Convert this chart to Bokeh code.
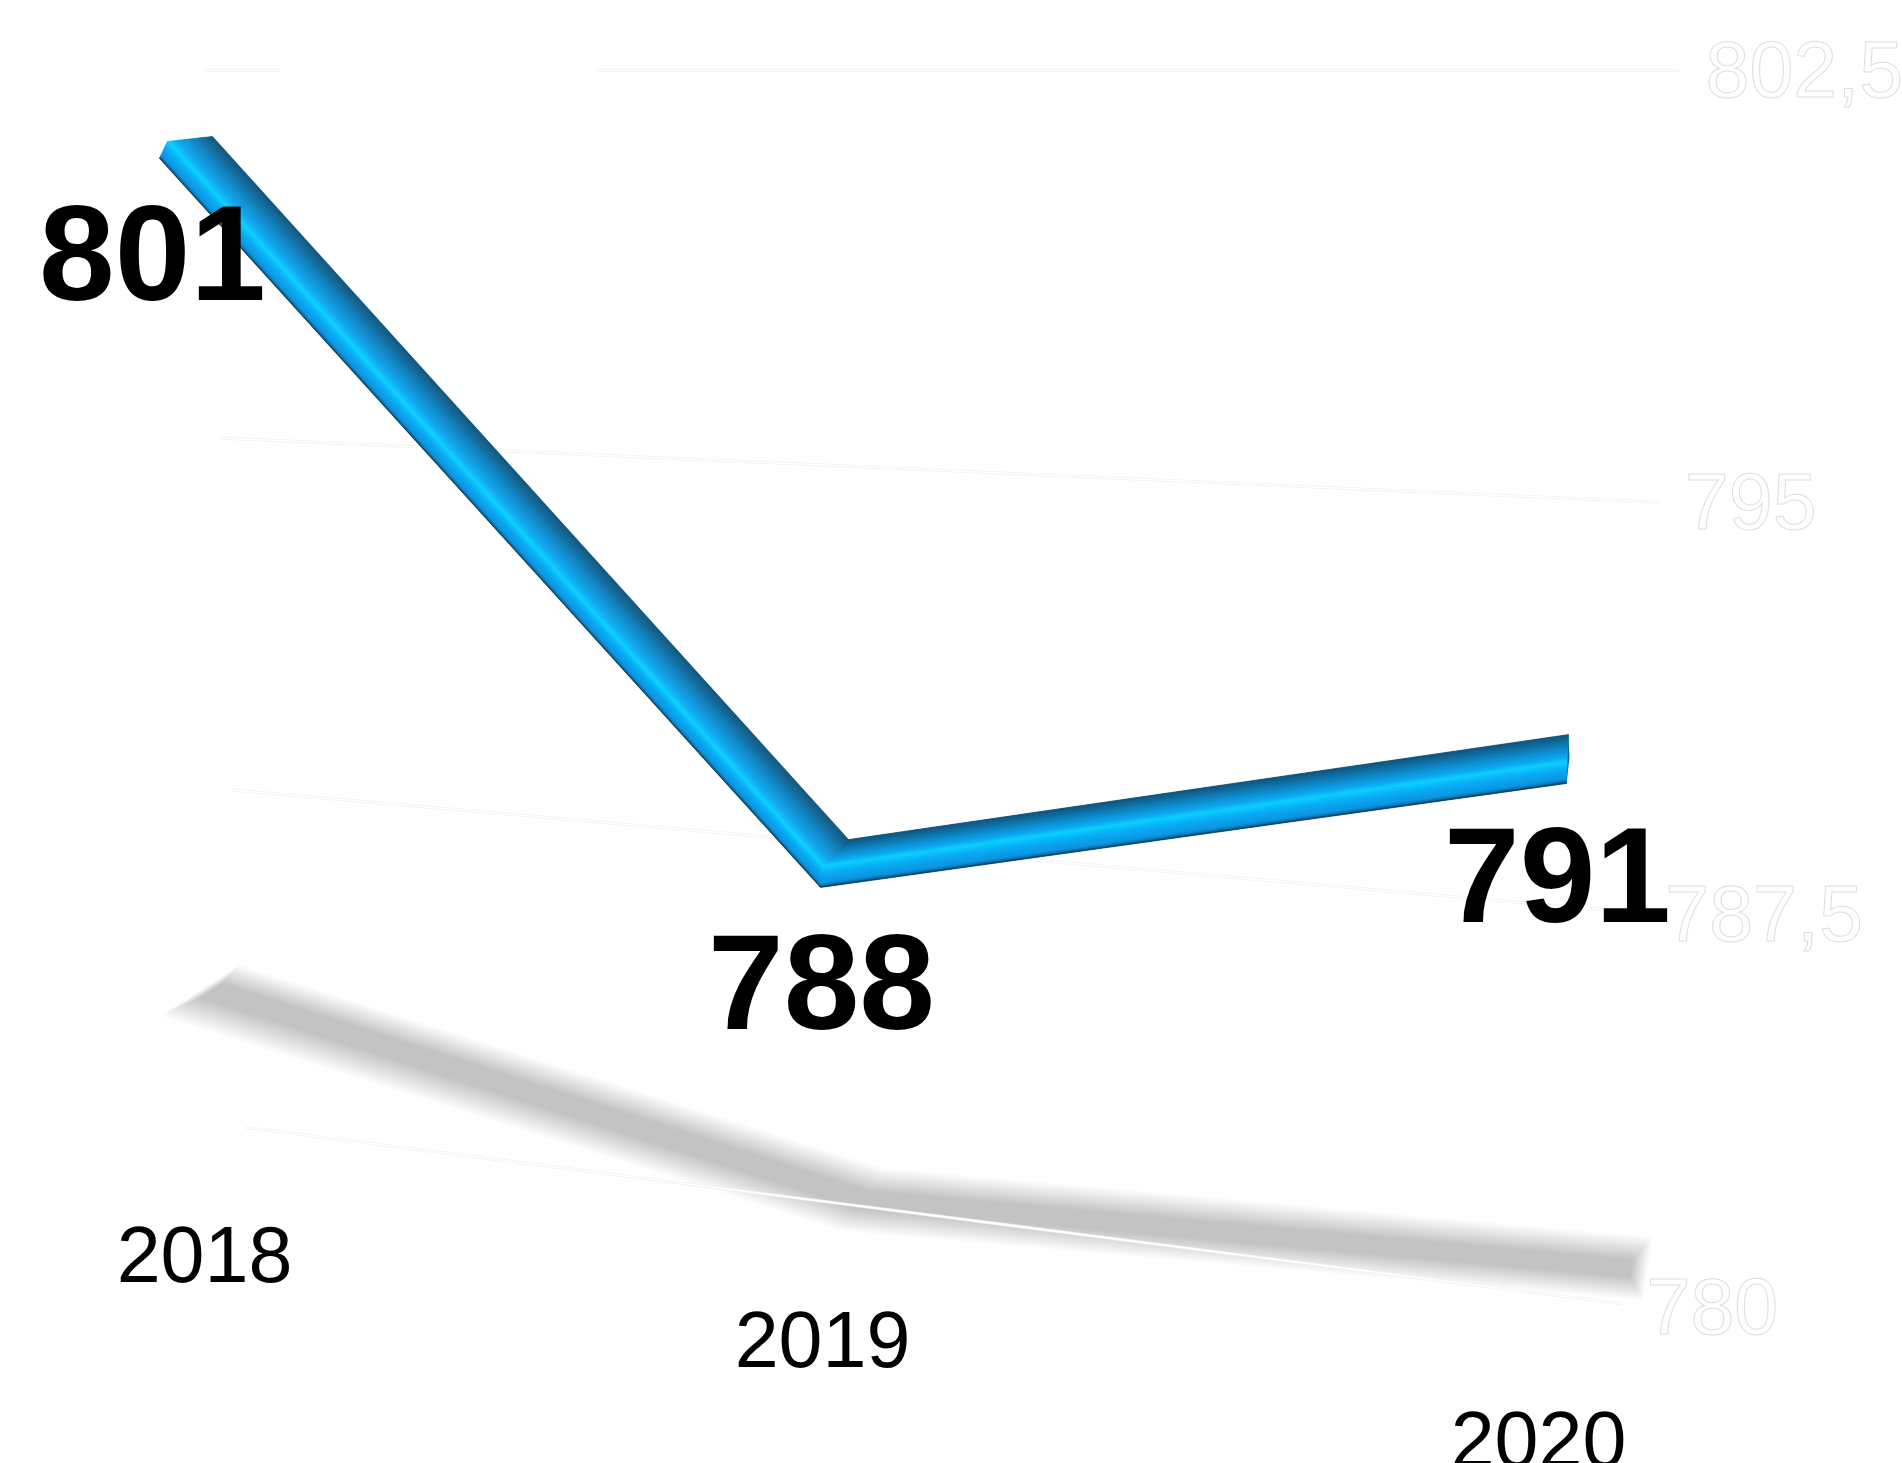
import numpy as np
from bokeh.plotting import figure
from bokeh.embed import file_html
from bokeh.resources import INLINE
from bokeh.core.properties import value

# ---- data ----
categories = ["2018", "2019", "2020"]
series_values = [801, 788, 791]
tick_values = [802.5, 795, 787.5, 780]
tick_labels = ["802,5", "795", "787,5", "780"]

# ---- layout: the 3D view is projected to page pixels by these calibrations ----
W, H = 1902, 1463
FONT = "Liberation Sans"
# value-axis wall: (u, value) -> page px, a perspective map
wall_from = [(0, 802.5), (1, 802.5), (1, 780), (0, 780)]
wall_to = [(204, 69), (1679, 69), (1620, 1302), (245, 1126)]


def homography(src, dst):
    A, b = [], []
    for (x, y), (X, Y) in zip(src, dst):
        A.append([x, y, 1, 0, 0, 0, -x * X, -y * X]); b.append(X)
        A.append([0, 0, 0, x, y, 1, -x * Y, -y * Y]); b.append(Y)
    return np.append(np.linalg.solve(np.array(A, float), np.array(b, float)), 1).reshape(3, 3)


HW = homography(wall_from, wall_to)


def wall(u, v):
    q = HW @ np.array([u, v, 1.0])
    return q[0] / q[2], q[1] / q[2]


# ribbon: per-category column, page y of value 802.5 and 780 in the ribbon's own plane
col_x = np.array([167, 822, 1567], float)
col_y_top = np.array([70.5, 128.0, 131.8])
col_y_bot = np.array([1127.5, 1273.2, 1364.8])
spine_y = np.array([np.interp(v, [780, 802.5], [b, t])
                    for v, t, b in zip(series_values, col_y_top, col_y_bot)])
spine = np.column_stack([col_x, spine_y])
top_offset = np.array([[45, -5], [26, -27], [1, -28]], float)
bottom_offset = np.array([[-8, 17], [-2, 21], [-1, 21]], float)
shadow_offset = np.array([[38, 849], [40, 333], [72, 506]], float)
shadow_half = np.array([[25, -16], [12, -20], [3, -20]], float)
value_label_offset = np.array([[-15, 112], [-1, 115], [-10, 112]], float)
cat_label_pos = np.array([[204, 1254], [822, 1339], [1538, 1439]], float)
tick_label_dy = [0, 0, 2, 4]

p = figure(width=W, height=H, x_range=(0, W), y_range=(H, 0),
           output_backend="svg", toolbar_location=None,
           x_axis_location=None, y_axis_location=None,
           min_border=0, outline_line_color=None, background_fill_color="white",
           border_fill_color="white")
p.grid.visible = False

# ---- blurred shadow: stacked, growing translucent polygons ----
shadow = spine + shadow_offset
layers = 20
for s in np.linspace(0.45, 1.6, layers):
    c = shadow.copy()
    c[0, 0] -= (s - 1) * 10
    c[2, 0] += (s - 1) * 14
    up = c + shadow_half * s
    lo = c - shadow_half * s
    p.patch(np.r_[up[:, 0], lo[::-1, 0]], np.r_[up[:, 1], lo[::-1, 1]],
            fill_color="black", fill_alpha=0.0125, line_color=None)

# ---- ghost gridlines (the top one is interrupted in the view) ----
for v in tick_values:
    spans = [(0, 0.06), (0.3, 1)] if v == tick_values[0] else [(0, 1)]
    for u0, u1 in spans:
        x0, y0 = wall(u0, v)
        x1, y1 = wall(u1, v)
        p.line([x0, x1], [y0 + 1, y1 + 1], line_color="#f0f0f0", line_width=3)
        p.line([x0, x1], [y0 + 1, y1 + 1], line_color="white", line_width=1.5)


# ---- ribbon, as strips across its width ----
def lerp_stops(stops, t):
    ts = [s[0] for s in stops]
    cs = np.array([s[1] for s in stops], float)
    return tuple(int(round(np.interp(t, ts, cs[:, i]))) for i in range(3))


upper_stops = [(0, (13, 78, 118)), (0.2, (10, 100, 150)), (0.5, (9, 135, 200)),
               (0.8, (8, 165, 240)), (1, (6, 208, 255))]
lower_stops = [(0, (6, 208, 255)), (0.35, (8, 170, 245)), (0.8, (10, 148, 225)),
               (0.93, (10, 110, 165)), (1, (12, 50, 75))]
xs, ys, cols = [], [], []
for edge, stops in ((top_offset, upper_stops), (bottom_offset, lower_stops)):
    N = 36
    for i in range(N):
        a = spine + edge * (1 - i / N) if stops is upper_stops else spine + edge * (i / N)
        b = spine + edge * (1 - (i + 1) / N) if stops is upper_stops else spine + edge * ((i + 1) / N)
        xs.append(np.r_[a[:, 0], b[::-1, 0]])
        ys.append(np.r_[a[:, 1], b[::-1, 1]])
        r, g, bl = lerp_stops(stops, (i + 0.5) / N)
        cols.append("#%02x%02x%02x" % (r, g, bl))
p.patches(xs, ys, fill_color=cols, line_color=cols, line_width=0.6)
# small end cap on the last category
end = spine[2]
cap_offset = np.array([top_offset[2], [2, -5], bottom_offset[2]], float)
p.patch(end[0] + cap_offset[:, 0], end[1] + cap_offset[:, 1], fill_color="#0d6ca8", line_color=None)

# ---- texts ----
vl = spine + value_label_offset
p.text(vl[:, 0], vl[:, 1], text=[str(v) for v in series_values], text_color="black",
       text_font=value(FONT), text_font_style="bold", text_font_size="136px",
       text_align="center", text_baseline="middle")
p.text(cat_label_pos[:, 0], cat_label_pos[:, 1], text=categories, text_color="black",
       text_font=value(FONT), text_font_size="79px",
       text_align="center", text_baseline="middle")
gx = [wall(1, v)[0] + 26 for v in tick_values]
gy = [wall(1, v)[1] + d for v, d in zip(tick_values, tick_label_dy)]
p.text(gx, gy, text=tick_labels, text_color="white", text_outline_color="#dedede",
       text_font=value(FONT), text_font_size="79px",
       text_align="left", text_baseline="middle")

open("out.html", "w").write(file_html(p, INLINE))
